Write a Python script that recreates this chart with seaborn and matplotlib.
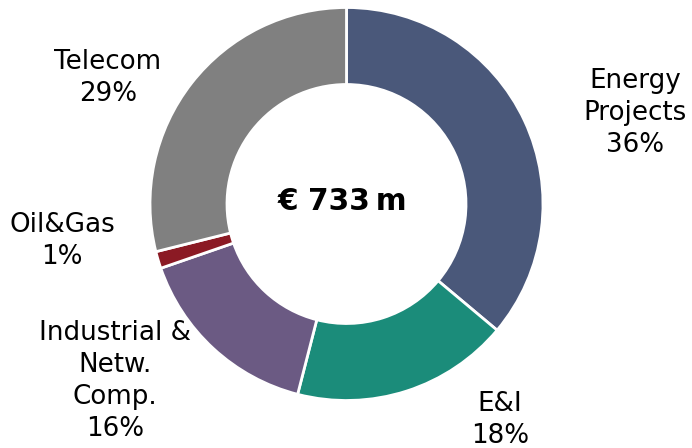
import seaborn as sns
from matplotlib import pyplot as plt

sns.set_theme(style="white")
plt.rcParams["font.family"] = ["DejaVu Sans"]

# data
segments = ["Energy\nProjects", "E&I", "Industrial &\nNetw.\nComp.", "Oil&Gas", "Telecom"]
shares = [36.1, 17.9, 15.7, 1.4, 28.9]
pct_labels = ["36%", "18%", "16%", "1%", "29%"]
colors = ["#4A587A", "#1B8C7A", "#6B5A83", "#8B1A24", "#808080"]
total_label = "€ 733\u2009m"

# label anchor positions in pixels (x, y from top)
label_pos = [(635, 113), (500, 420), (115, 381), (62, 241), (108, 78)]

W, H = 692, 448
fig = plt.figure(figsize=(W / 100, H / 100), dpi=100)
ax = fig.add_axes([0, 0, 1, 1])

cx, cy, r_out = 346.5, H - 204, 196.5
ax.pie(
    shares,
    colors=colors,
    startangle=90,
    counterclock=False,
    radius=r_out,
    center=(cx, cy),
    wedgeprops=dict(width=r_out - 119.5, edgecolor="white", linewidth=2),
)

ax.set_xlim(0, W)
ax.set_ylim(0, H)
ax.set_aspect("equal")
ax.axis("off")

for name, pct, (x, y) in zip(segments, pct_labels, label_pos):
    ax.text(
        x, H - y, f"{name}\n{pct}",
        ha="center", va="center", fontsize=18.8,
        linespacing=1.3, color="black",
    )

ax.text(cx - 4, cy + 3, total_label, ha="center", va="center",
        fontsize=21.3, fontweight="bold", color="black")

plt.savefig("out.png", dpi=100)
